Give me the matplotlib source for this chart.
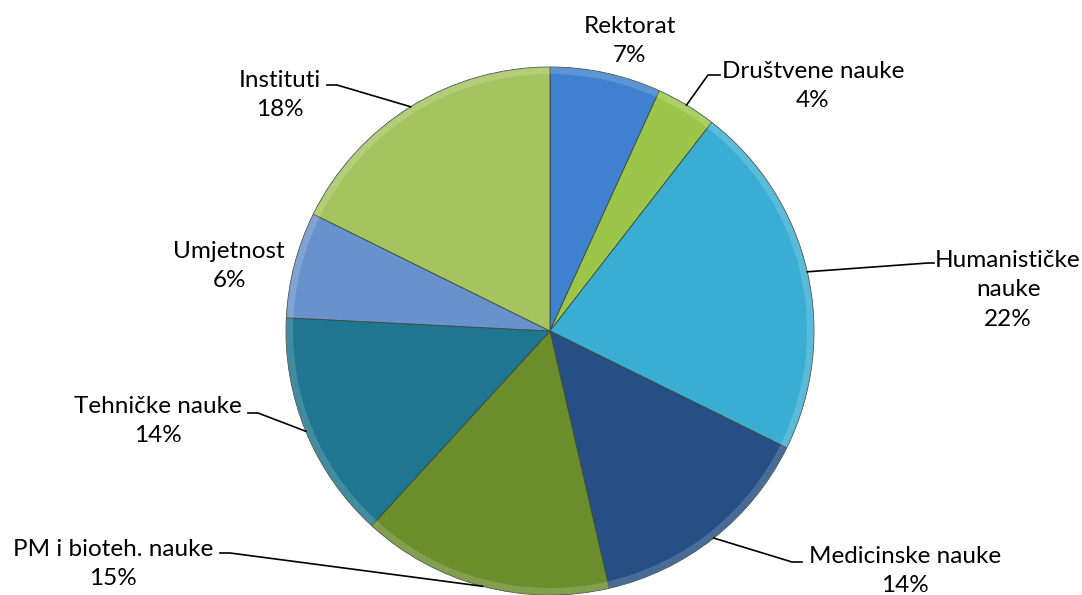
import numpy as np
import matplotlib
matplotlib.use('Agg')
from matplotlib import pyplot as plt

plt.rcParams['font.family'] = ['Lato', 'DejaVu Sans']

# shares (percent)
categories = ['Rektorat', 'Društvene nauke', 'Humanističke\nnauke', 'Medicinske nauke',
              'PM i bioteh. nauke', 'Tehničke nauke', 'Umjetnost', 'Instituti']
shares = [6.8, 3.7, 21.8, 14.1, 15.4, 14.0, 6.5, 17.7]
colors = ['#3f80cf', '#9cc64a', '#3aaed2', '#264f85', '#6b8d2c', '#1f7690', '#6892cc', '#a5c460']

W, H = 1082, 595
cx, cy, R = 550, H - 331, 264

# label block centres (pixel coords of the picture, y down) and leader elbows
label_pos = [(630, 41), (813, 86), (1008, 290), (905, 571),
             (113, 564), (158, 421), (229, 266), (280, 95)]
elbows = [None, [(708, 75), (720, 75)], [(928, 263), (934, 263)], [(792, 562), (802, 562)],
          [(230, 553), (220, 553)], [(258, 413), (248, 413)], None, [(337, 85), (327, 85)]]

fig = plt.figure(figsize=(W / 100, H / 100), dpi=100)
ax = fig.add_axes([0, 0, 1, 1])

wedges, _ = ax.pie(shares, colors=colors, startangle=90, counterclock=False,
                   center=(cx, cy), radius=R, frame=True,
                   wedgeprops=dict(edgecolor='#3c4a3c', linewidth=0.6))
# light bevel on the rim
ax.pie(shares, colors=['white'] * len(shares), startangle=90, counterclock=False,
       center=(cx, cy), radius=R, frame=True,
       wedgeprops=dict(width=7, alpha=0.16, linewidth=0))
ax.set_xlim(0, W)
ax.set_ylim(0, H)
ax.set_aspect('equal')
ax.axis('off')

for w, name, v, pos, elb in zip(wedges, categories, shares, label_pos, elbows):
    ax.text(pos[0], H - pos[1], '%s\n%d%%' % (name, round(v)), ha='center', va='center',
            fontsize=17.5, linespacing=1.5, color='black')
    if elb is not None:
        ang = np.deg2rad((w.theta1 + w.theta2) / 2)
        px = cx + R * np.cos(ang)
        py = cy + R * np.sin(ang)
        xs = [px] + [e[0] for e in elb]
        ys = [py] + [H - e[1] for e in elb]
        ax.plot(xs, ys, color='black', linewidth=1.2)

fig.savefig('out.png', dpi=100)
